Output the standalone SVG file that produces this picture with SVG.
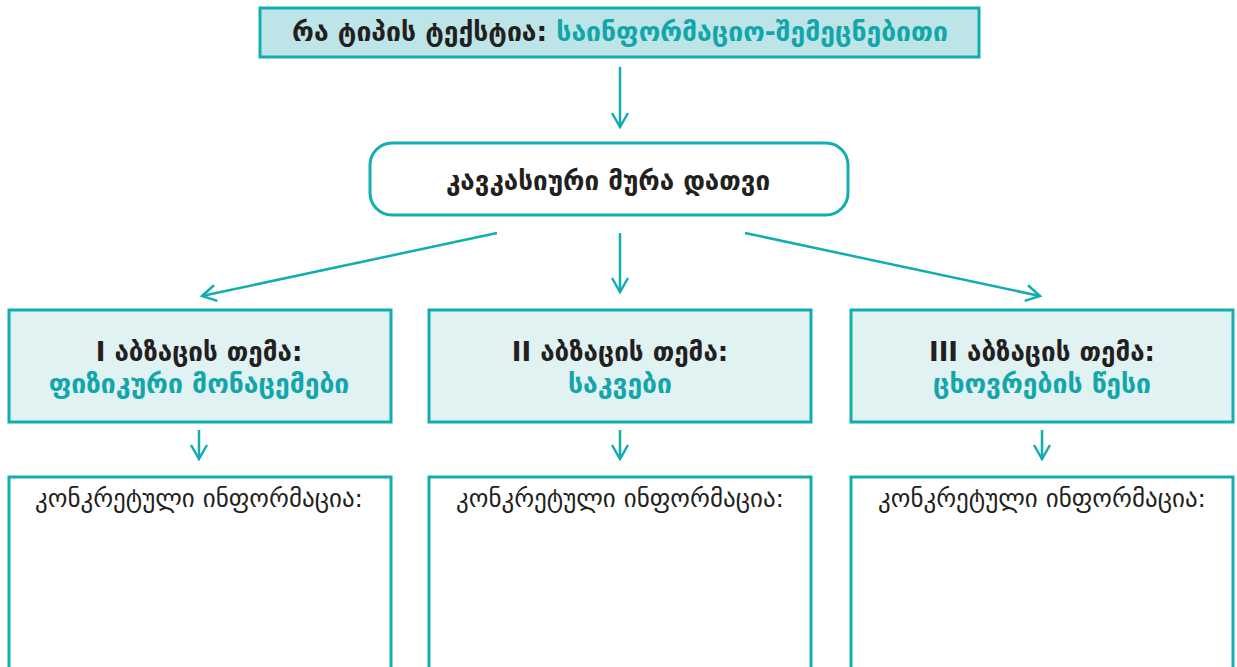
<svg xmlns="http://www.w3.org/2000/svg" width="1237" height="667" viewBox="0 0 1237 667">
<style>
  .box{stroke:#12adb1;stroke-width:3;}
  .conn{stroke:#12adb1;stroke-width:2.5;fill:none;}
  text{font-family:"DejaVu Sans","Noto Sans",sans-serif;text-anchor:middle;}
  .b{font-weight:bold;fill:#231f20;}
  .t{font-weight:bold;fill:#12a6aa;}
  .r{fill:#231f20;}
</style>
<defs>
  <marker id="ah" viewBox="0 0 20 20" refX="18" refY="10" markerWidth="20" markerHeight="20" markerUnits="userSpaceOnUse" orient="auto">
    <path d="M4,2 L18,10 L4,18" fill="none" stroke="#12adb1" stroke-width="2.5"/>
  </marker>
</defs>
<rect width="1237" height="667" fill="#ffffff"/>
<g id="top">
  <rect class="box" x="260" y="8" width="719" height="49" fill="#bde4e6"/>
  <text x="620" y="41" font-size="26.5"><tspan class="b">რა ტიპის ტექსტია: </tspan><tspan class="t">საინფორმაციო-შემეცნებითი</tspan></text>
</g>
<g id="title">
  <rect class="box" x="370" y="143" width="478" height="72" rx="22" fill="#ffffff"/>
  <text class="b" x="608" y="190" font-size="26">კავკასიური მურა დათვი</text>
</g>
<g id="theme1">
  <rect class="box" x="9" y="310" width="382" height="112" fill="#e0f2f2"/>
  <text class="b" x="199" y="361" font-size="26">I აბზაცის თემა:</text>
  <text class="t" x="199" y="393" font-size="26.5">ფიზიკური მონაცემები</text>
</g>
<g id="theme2">
  <rect class="box" x="429" y="310" width="382" height="112" fill="#e0f2f2"/>
  <text class="b" x="620" y="361" font-size="26">II აბზაცის თემა:</text>
  <text class="t" x="620" y="393" font-size="26.5">საკვები</text>
</g>
<g id="theme3">
  <rect class="box" x="851" y="310" width="382" height="112" fill="#e0f2f2"/>
  <text class="b" x="1042" y="361" font-size="26">III აბზაცის თემა:</text>
  <text class="t" x="1042" y="393" font-size="26.5">ცხოვრების წესი</text>
</g>
<g id="info1">
  <rect class="box" x="9" y="477" width="382" height="200" fill="#ffffff"/>
  <text class="r" x="199" y="507" font-size="25">კონკრეტული ინფორმაცია:</text>
</g>
<g id="info2">
  <rect class="box" x="429" y="477" width="382" height="200" fill="#ffffff"/>
  <text class="r" x="620" y="507" font-size="25">კონკრეტული ინფორმაცია:</text>
</g>
<g id="info3">
  <rect class="box" x="851" y="477" width="382" height="200" fill="#ffffff"/>
  <text class="r" x="1042" y="507" font-size="25">კონკრეტული ინფორმაცია:</text>
</g>
<g id="connectors">
  <path class="conn" d="M620,67 L620,127" marker-end="url(#ah)"/>
  <path class="conn" d="M497,233 L202,296" marker-end="url(#ah)"/>
  <path class="conn" d="M620,233 L620,292" marker-end="url(#ah)"/>
  <path class="conn" d="M745,233 L1040,296" marker-end="url(#ah)"/>
  <path class="conn" d="M199,430 L199,459" marker-end="url(#ah)"/>
  <path class="conn" d="M620,430 L620,459" marker-end="url(#ah)"/>
  <path class="conn" d="M1042,430 L1042,459" marker-end="url(#ah)"/>
</g>
</svg>
